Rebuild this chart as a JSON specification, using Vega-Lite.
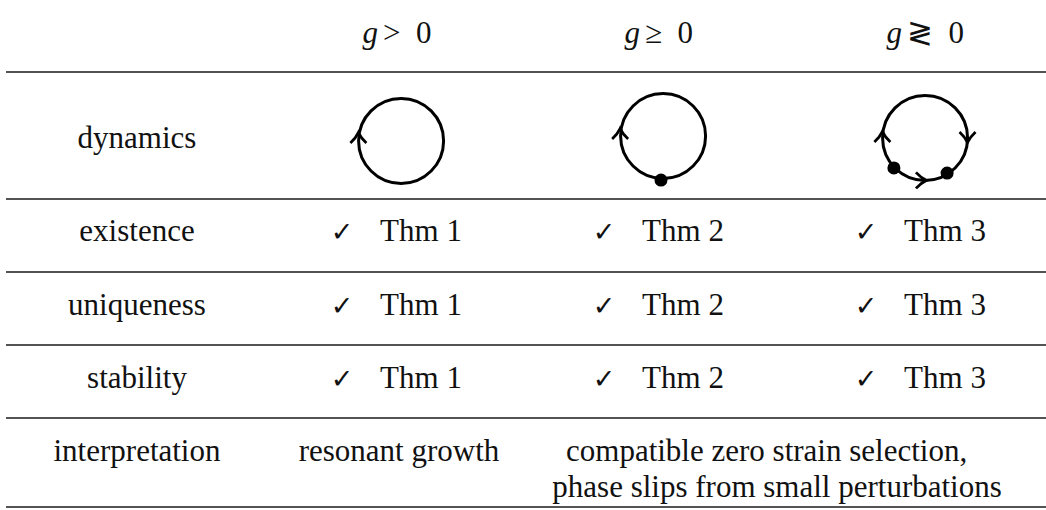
{
  "$schema": "https://vega.github.io/schema/vega-lite/v6.json",
  "width": 1046,
  "height": 510,
  "padding": 0,
  "autosize": {"type": "none"},
  "background": "white",
  "config": {"view": {"stroke": null}},
  "datasets": {
    "labels": [
      {"col": 0, "pos": 1.301, "text": "dynamics"},
      {"col": 0, "pos": 2.575, "text": "existence"},
      {"col": 0, "pos": 3.589, "text": "uniqueness"},
      {"col": 0, "pos": 4.589, "text": "stability"},
      {"col": 0, "pos": 5.589, "text": "interpretation"},
      {"col": 1, "pos": 5.589, "text": "resonant growth"},
      {"col": 2.403, "pos": 5.589, "text": "compatible zero strain selection,"},
      {"col": 2.443, "pos": 6.082, "text": "phase slips from small perturbations"}
    ],
    "headers": [
      {"col": 1, "pos": -0.137, "var": "g", "rel": ">\u20020"},
      {"col": 2, "pos": -0.137, "var": "g", "rel": "≥\u20020"},
      {"col": 3, "pos": -0.137, "var": "g", "rel": "≷\u20020"}
    ],
    "theorems": [
      {"col": 1, "pos": 2.575, "thm": "Thm 1"},
      {"col": 2, "pos": 2.575, "thm": "Thm 2"},
      {"col": 3, "pos": 2.575, "thm": "Thm 3"},
      {"col": 1, "pos": 3.589, "thm": "Thm 1"},
      {"col": 2, "pos": 3.589, "thm": "Thm 2"},
      {"col": 3, "pos": 3.589, "thm": "Thm 3"},
      {"col": 1, "pos": 4.589, "thm": "Thm 1"},
      {"col": 2, "pos": 4.589, "thm": "Thm 2"},
      {"col": 3, "pos": 4.589, "thm": "Thm 3"}
    ],
    "rules": [
      {"pos": 0.26}, {"pos": 2}, {"pos": 3}, {"pos": 4}, {"pos": 5}, {"pos": 6.219}
    ],
    "loops": [
      {"col": 1.008, "pos": 1.205},
      {"col": 2.008, "pos": 1.137},
      {"col": 3.008, "pos": 1.164}
    ],
    "arrows": [
      {"col": 0.845, "pos": 1.151, "heading": 0},
      {"col": 1.844, "pos": 1.096, "heading": 0},
      {"col": 2.845, "pos": 1.137, "heading": 0},
      {"col": 3.17, "pos": 1.164, "heading": 180},
      {"col": 2.996, "pos": 1.745, "heading": 90}
    ],
    "fixed": [
      {"col": 2.0, "pos": 1.74},
      {"col": 2.889, "pos": 1.575},
      {"col": 3.092, "pos": 1.644}
    ]
  },
  "layer": [
    {
      "data": {"name": "rules"},
      "mark": {"type": "rule", "color": "#1a1a1a", "strokeWidth": 1.3},
      "encoding": {
        "x": {"datum": -0.5, "type": "quantitative", "scale": {"domain": [-0.5229, 3.4695], "nice": false, "zero": false}, "axis": null},
        "x2": {"datum": 3.4695},
        "y": {"field": "pos", "type": "quantitative", "scale": {"domain": [-0.726, 6.26], "reverse": true, "nice": false, "zero": false}, "axis": null}
      }
    },
    {
      "data": {"name": "loops"},
      "mark": {"type": "point", "shape": "circle", "filled": false, "size": 7225, "strokeWidth": 3, "color": "black", "opacity": 1},
      "encoding": {
        "x": {"field": "col", "type": "quantitative", "scale": {"domain": [-0.5229, 3.4695], "nice": false, "zero": false}, "axis": null},
        "y": {"field": "pos", "type": "quantitative", "scale": {"domain": [-0.726, 6.26], "reverse": true, "nice": false, "zero": false}, "axis": null}
      }
    },
    {
      "data": {"name": "arrows"},
      "mark": {"type": "point", "shape": "M-1,0.75Q-0.3,0.1 0,-0.55Q0.3,0.1 1,0.75", "filled": false, "size": 256, "strokeWidth": 2.8, "color": "black", "opacity": 1},
      "encoding": {
        "x": {"field": "col", "type": "quantitative", "scale": {"domain": [-0.5229, 3.4695], "nice": false, "zero": false}, "axis": null},
        "y": {"field": "pos", "type": "quantitative", "scale": {"domain": [-0.726, 6.26], "reverse": true, "nice": false, "zero": false}, "axis": null},
        "angle": {"field": "heading", "type": "quantitative", "scale": {"domain": [0, 360], "range": [0, 360]}}
      }
    },
    {
      "data": {"name": "fixed"},
      "mark": {"type": "point", "shape": "circle", "filled": true, "size": 170, "color": "black", "opacity": 1},
      "encoding": {
        "x": {"field": "col", "type": "quantitative", "scale": {"domain": [-0.5229, 3.4695], "nice": false, "zero": false}, "axis": null},
        "y": {"field": "pos", "type": "quantitative", "scale": {"domain": [-0.726, 6.26], "reverse": true, "nice": false, "zero": false}, "axis": null}
      }
    },
    {
      "data": {"name": "labels"},
      "mark": {"type": "text", "font": "'Liberation Serif', 'DejaVu Serif', serif", "fontSize": 31, "baseline": "alphabetic", "align": "center", "color": "#111"},
      "encoding": {
        "x": {"field": "col", "type": "quantitative", "scale": {"domain": [-0.5229, 3.4695], "nice": false, "zero": false}, "axis": null},
        "y": {"field": "pos", "type": "quantitative", "scale": {"domain": [-0.726, 6.26], "reverse": true, "nice": false, "zero": false}, "axis": null},
        "text": {"field": "text"}
      }
    },
    {
      "data": {"name": "headers"},
      "mark": {"type": "text", "font": "'Liberation Serif', 'DejaVu Serif', serif", "fontSize": 31, "fontStyle": "italic", "baseline": "alphabetic", "align": "right", "dx": -21, "color": "#111"},
      "encoding": {
        "x": {"field": "col", "type": "quantitative", "scale": {"domain": [-0.5229, 3.4695], "nice": false, "zero": false}, "axis": null},
        "y": {"field": "pos", "type": "quantitative", "scale": {"domain": [-0.726, 6.26], "reverse": true, "nice": false, "zero": false}, "axis": null},
        "text": {"field": "var"}
      }
    },
    {
      "data": {"name": "headers"},
      "mark": {"type": "text", "font": "'Liberation Serif', 'DejaVu Serif', serif", "fontSize": 31, "baseline": "alphabetic", "align": "left", "dx": -16, "color": "#111"},
      "encoding": {
        "x": {"field": "col", "type": "quantitative", "scale": {"domain": [-0.5229, 3.4695], "nice": false, "zero": false}, "axis": null},
        "y": {"field": "pos", "type": "quantitative", "scale": {"domain": [-0.726, 6.26], "reverse": true, "nice": false, "zero": false}, "axis": null},
        "text": {"field": "rel"}
      }
    },
    {
      "data": {"name": "theorems"},
      "mark": {"type": "text", "font": "'DejaVu Sans', sans-serif", "fontSize": 27, "baseline": "alphabetic", "align": "center", "dx": -57, "color": "#111"},
      "encoding": {
        "x": {"field": "col", "type": "quantitative", "scale": {"domain": [-0.5229, 3.4695], "nice": false, "zero": false}, "axis": null},
        "y": {"field": "pos", "type": "quantitative", "scale": {"domain": [-0.726, 6.26], "reverse": true, "nice": false, "zero": false}, "axis": null},
        "text": {"value": "✓"}
      }
    },
    {
      "data": {"name": "theorems"},
      "mark": {"type": "text", "font": "'Liberation Serif', 'DejaVu Serif', serif", "fontSize": 31, "baseline": "alphabetic", "align": "center", "dx": 22, "color": "#111"},
      "encoding": {
        "x": {"field": "col", "type": "quantitative", "scale": {"domain": [-0.5229, 3.4695], "nice": false, "zero": false}, "axis": null},
        "y": {"field": "pos", "type": "quantitative", "scale": {"domain": [-0.726, 6.26], "reverse": true, "nice": false, "zero": false}, "axis": null},
        "text": {"field": "thm"}
      }
    }
  ]
}
